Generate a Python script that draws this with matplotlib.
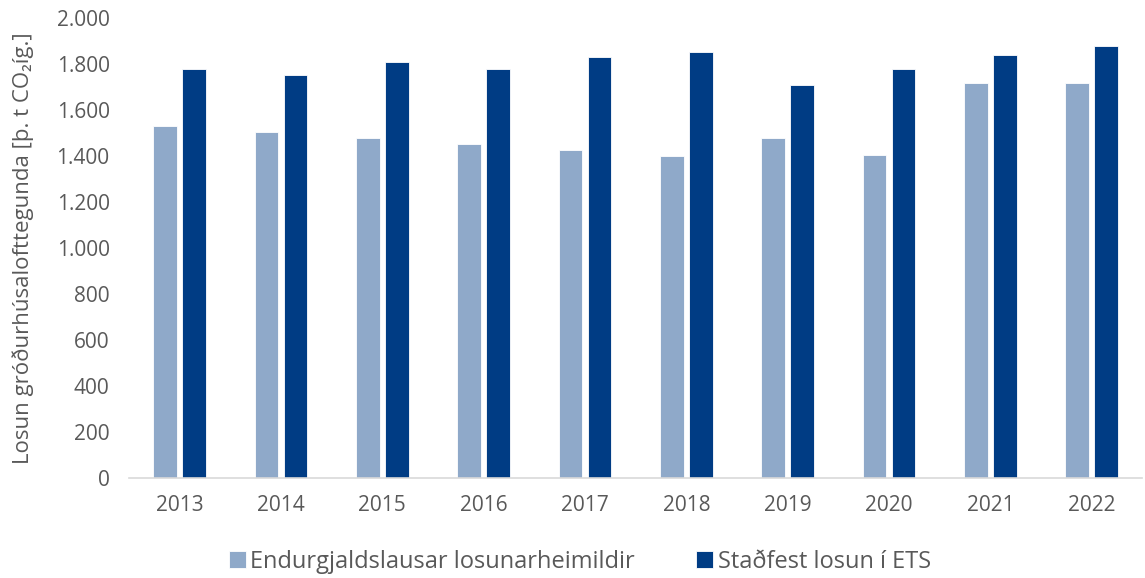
import numpy as np
import matplotlib.pyplot as plt
from matplotlib.ticker import FuncFormatter

plt.rcParams['font.family'] = ['Open Sans', 'Noto Sans', 'DejaVu Sans']

# Data
years = ['2013', '2014', '2015', '2016', '2017', '2018', '2019', '2020', '2021', '2022']
free_allowances = [1532, 1506, 1480, 1454, 1425, 1398, 1480, 1402, 1718, 1718]
verified_emissions = [1778, 1754, 1810, 1778, 1829, 1854, 1708, 1778, 1840, 1877]

light = '#8FA9C9'
dark = '#003C84'
grey = '#595959'

fig = plt.figure(figsize=(11.45, 5.78), dpi=100)
ax = fig.add_axes([0.1127, 0.173, 0.885, 0.796])

x = np.arange(len(years))
w = 0.235
ax.bar(x - 0.143, free_allowances, w, color=light, edgecolor='white', linewidth=0.6,
       label='Endurgjaldslausar losunarheimildir')
ax.bar(x + 0.143, verified_emissions, w, color=dark, edgecolor='white', linewidth=0.6,
       label='Staðfest losun í ETS')

ax.set_xlim(-0.5, len(years) - 0.5)
ax.set_ylim(0, 2000)
ax.set_yticks(np.arange(0, 2001, 200))
ax.yaxis.set_major_formatter(FuncFormatter(lambda v, p: f'{int(v):,}'.replace(',', '.')))
ax.set_xticks(x)
ax.set_xticklabels(years)

for s in ['top', 'right', 'left']:
    ax.spines[s].set_visible(False)
ax.spines['bottom'].set_color('#D9D9D9')
ax.spines['bottom'].set_linewidth(1.2)
ax.tick_params(axis='both', length=0, labelsize=15, colors=grey)
ax.tick_params(axis='x', pad=12)
ax.tick_params(axis='y', pad=14)

ax.set_ylabel('Losun gróðurhúsalofttegunda [þ. t CO₂íg.]', fontsize=16, color=grey)
ax.yaxis.set_label_coords(-0.094, 0.5)

leg = ax.legend(loc='upper center', bbox_to_anchor=(0.445, -0.12), ncol=2, frameon=False,
                fontsize=17, handlelength=0.7, handleheight=0.7, handletextpad=0.2,
                columnspacing=2.6, labelcolor=grey, borderaxespad=0.3)

plt.savefig('out.png', dpi=100)
